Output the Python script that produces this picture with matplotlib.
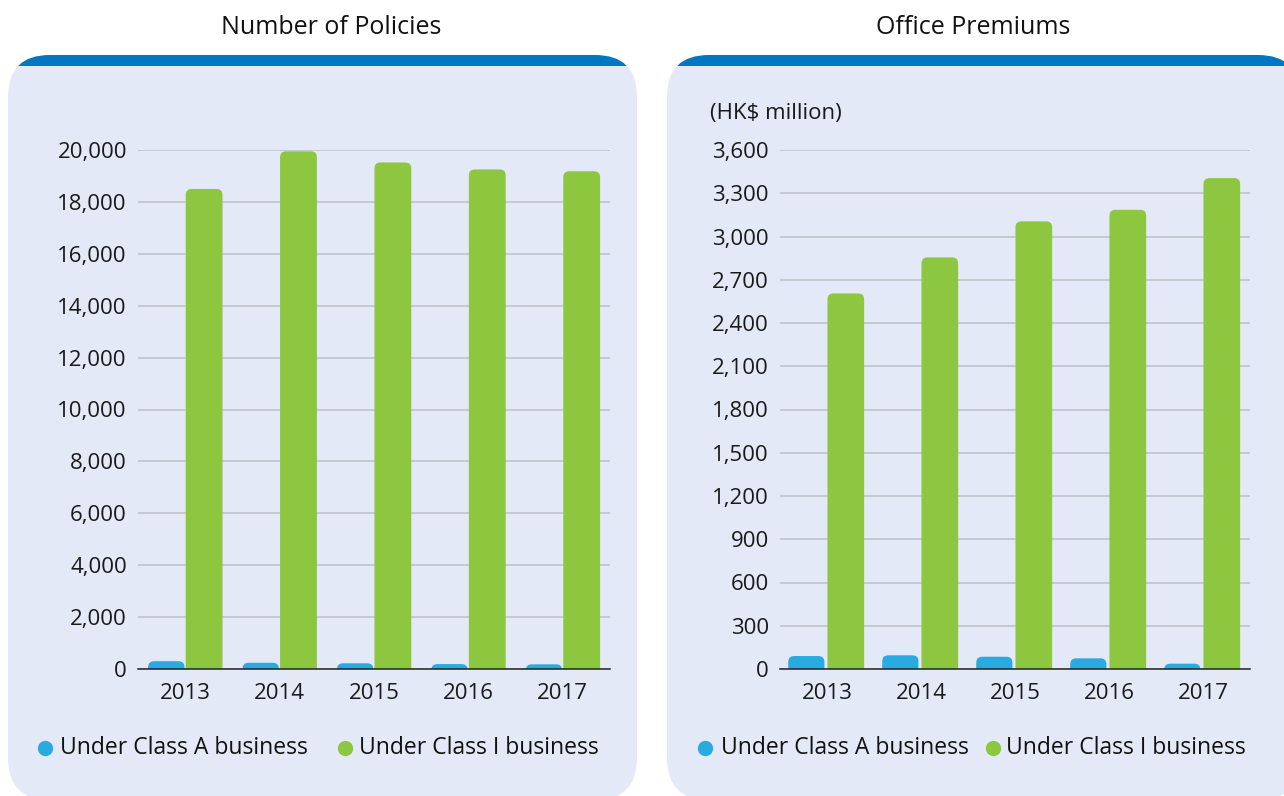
import matplotlib
matplotlib.use("Agg")
import matplotlib.pyplot as plt
from matplotlib.patches import FancyBboxPatch, Rectangle
from matplotlib.ticker import FuncFormatter

years = ["2013", "2014", "2015", "2016", "2017"]

policies_class_a = [300, 240, 220, 190, 180]
policies_class_i = [18500, 19950, 19520, 19250, 19180]

premiums_class_a = [90, 95, 85, 74, 37]
premiums_class_i = [2605, 2855, 3105, 3185, 3405]

BLUE = "#29abe2"
GREEN = "#8dc63f"
PANEL = "#e3e9f6"
BAND = "#0077c0"
GRID = "#bfc0c8"

plt.rcParams["font.family"] = ["Open Sans", "DejaVu Sans"]
FS = 16
TITLE_FS = 18
LEG_FS = 16.5

W, H = 1284, 796
fig = plt.figure(figsize=(W / 100, H / 100), dpi=100)

# background layer in pixel coords (y downwards)
bg = fig.add_axes([0, 0, 1, 1], zorder=0)
bg.set_xlim(0, W)
bg.set_ylim(H, 0)
bg.axis("off")


def panel(x0, x1):
    p = FancyBboxPatch((x0, 55), x1 - x0, 745, boxstyle="round,pad=0,rounding_size=42",
                       fc=PANEL, ec="none")
    bg.add_patch(p)
    band = Rectangle((x0 - 5, 55), x1 - x0 + 10, 11, fc=BAND, ec="none")
    bg.add_patch(band)
    band.set_clip_path(p)


panel(8, 637)
panel(667, 1300)


def rounded_bars(ax, x, vals, width, color, ymax, px_w, px_h):
    bars = ax.bar(x, vals, width, color=color)
    xs = 5 / px_w      # x data units per pixel
    ys = ymax / px_h   # y data units per pixel
    r = 6 * xs
    asp = ys / xs
    for b in bars:
        bx, bw, bh = b.get_x(), b.get_width(), b.get_height()
        fb = FancyBboxPatch((bx, -r * asp), bw, bh + r * asp,
                            boxstyle=f"round,pad=0,rounding_size={r}",
                            mutation_aspect=asp, fc=color, ec="none", zorder=3)
        ax.add_patch(fb)
        b.remove()


def chart(rect, a_vals, i_vals, ymax, step, off_a, off_i, px_w):
    ax = fig.add_axes(rect, zorder=2)
    ax.patch.set_alpha(0)
    x = list(range(len(years)))
    rounded_bars(ax, [v + off_a for v in x], a_vals, 0.385, BLUE, ymax, px_w, 519)
    rounded_bars(ax, [v + off_i for v in x], i_vals, 0.39, GREEN, ymax, px_w, 519)
    ax.set_xlim(-0.5, len(years) - 0.5)
    ax.set_ylim(0, ymax)
    ax.set_yticks(range(0, ymax + 1, step))
    ax.yaxis.set_major_formatter(FuncFormatter(lambda v, p: f"{int(v):,}"))
    ax.set_xticks(x)
    ax.set_xticklabels(years)
    ax.tick_params(axis="both", length=0, labelsize=FS, colors="#1a1a1a")
    ax.tick_params(axis="y", pad=8)
    ax.tick_params(axis="x", pad=10)
    ax.grid(axis="y", color=GRID, linewidth=1.1)
    ax.set_axisbelow(True)
    for s in ["top", "right", "left"]:
        ax.spines[s].set_visible(False)
    ax.spines["bottom"].set_color("#222222")
    ax.spines["bottom"].set_linewidth(1.1)
    ax.spines["bottom"].set_zorder(4)
    return ax


y0 = 1 - 669 / H
h = 519 / H
chart([138 / W, y0, 472 / W, h], policies_class_a, policies_class_i, 20000, 2000, -0.2, 0.2, 472)
chart([780 / W, y0, 470 / W, h], premiums_class_a, premiums_class_i, 3600, 300, -0.22, 0.2, 470)

# titles and notes in pixel coords
bg.text(331, 27, "Number of Policies", ha="center", va="center", fontsize=TITLE_FS, color="#111111")
bg.text(973, 27, "Office Premiums", ha="center", va="center", fontsize=TITLE_FS, color="#111111")
bg.text(710, 114, "(HK$ million)", ha="left", va="center", fontsize=FS, color="#1a1a1a")


def legend(items):
    for (dx, tx, label, color) in items:
        bg.plot(dx, 748, "o", ms=11, color=color, mec="none")
        bg.text(tx, 748, label, ha="left", va="center", fontsize=LEG_FS, color="#111111")


legend([(45, 60, "Under Class A business", BLUE),
        (345, 359, "Under Class I business", GREEN)])
legend([(705, 721, "Under Class A business", BLUE),
        (993, 1006, "Under Class I business", GREEN)])

fig.savefig("out.png", dpi=100, facecolor="white")
